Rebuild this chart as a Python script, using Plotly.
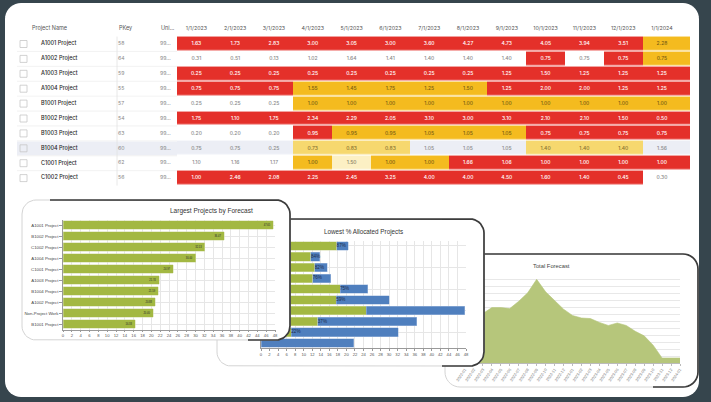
import numpy as np
import plotly.graph_objects as go

W, H = 711, 402

# ----------------------------- DATA -----------------------------
table_projects = ["A1001 Project", "A1002 Project", "A1003 Project", "A1004 Project",
                  "B1001 Project", "B1002 Project", "B1003 Project", "B1004 Project",
                  "C1001 Project", "C1002 Project"]
table_pkeys = ["58", "64", "59", "55", "57", "54", "63", "60", "62", "56"]
table_units = ["99..."] * 10
table_headers = ["Project Name", "PKey", "Uni..."]
table_months = ["1/1/2023", "2/1/2023", "3/1/2023", "4/1/2023", "5/1/2023", "6/1/2023",
                "7/1/2023", "8/1/2023", "9/1/2023", "10/1/2023", "11/1/2023", "12/1/2023",
                "1/1/2024"]
table_values = [
    [1.63, 1.73, 2.83, 3.00, 3.05, 3.00, 3.60, 4.27, 4.73, 4.05, 3.94, 3.51, 2.28],
    [0.31, 0.51, 0.13, 1.02, 1.64, 1.41, 1.40, 1.40, 1.40, 0.75, 0.75, 0.75, 0.75],
    [0.25, 0.25, 0.25, 0.25, 0.25, 0.25, 0.25, 0.25, 1.25, 1.50, 1.25, 1.25, 1.25],
    [0.75, 0.75, 0.75, 1.55, 1.45, 1.75, 1.25, 1.50, 1.25, 2.00, 2.00, 1.25, 1.25],
    [0.25, 0.25, 0.25, 1.00, 1.00, 1.00, 1.00, 1.00, 1.00, 1.00, 1.00, 1.00, 1.00],
    [1.75, 1.10, 1.75, 2.34, 2.29, 2.05, 3.10, 3.00, 3.10, 2.10, 2.10, 1.50, 0.50],
    [0.20, 0.20, 0.20, 0.95, 0.95, 0.95, 1.05, 1.05, 1.05, 0.75, 0.75, 0.75, 0.75],
    [0.75, 0.75, 0.25, 0.73, 0.83, 0.83, 1.05, 1.05, 1.05, 1.40, 1.40, 1.40, 1.56],
    [1.10, 1.16, 1.17, 1.00, 1.50, 1.00, 1.00, 1.66, 1.06, 1.00, 1.00, 1.00, 1.00],
    [1.00, 2.46, 2.08, 2.25, 2.45, 3.25, 4.00, 4.00, 4.50, 1.60, 1.40, 0.45, 0.30],
]
# R red, A amber, L light amber, C cream, G grey (selected row), W white
table_status = ["RRRRRRRRRRRRA", "WWWWWWWWWRWRA", "RRRRRRRRRRRRR", "RRRAAAAARRRRR",
                "WWWAAAAAAAAAA", "RRRRRRRRRRRRR", "WWWRAAAAARRRR", "GGGLLLGGGLLLG",
                "WWWACAARRRRRR", "RRRRRRRRRRRRW"]
selected_row = "B1004 Project"

largest_projects = ["A1001 Project", "B1002 Project", "C1002 Project", "A1004 Project",
                    "C1001 Project", "A1003 Project", "B1004 Project", "A1002 Project",
                    "Non-Project Work", "B1001 Project"]
largest_forecast = [47.65, 36.47, 32.13, 30.00, 24.97, 21.74, 21.59, 20.88, 20.40, 16.33]

lowest_projects = ["Non-Project Work", "B1003 Project", "D1001 Project", "B1001 Project",
                   "C1001 Project", "A1004 Project", "A1001 Project", "B1002 Project",
                   "C1002 Project", "A1003 Project"]
lowest_allocated = [17.7, 11.7, 12.6, 12.1, 18.5, 17.6, 24.6, 13.3, 7.1, 0.0]
lowest_forecast = [20.40, 13.8, 15.5, 16.33, 24.97, 30.00, 47.65, 36.47, 32.13, 21.74]
lowest_labels = ["87%", "84%", "82%", "76%", "75%", "59%", "", "37%", "22%", ""]

total_months = ["2022-01", "2022-02", "2022-03", "2022-04", "2022-05", "2022-06", "2022-07",
                "2022-08", "2022-09", "2022-10", "2022-11", "2022-12", "2023-01", "2023-02",
                "2023-03", "2023-04", "2023-05", "2023-06", "2023-07", "2023-08", "2023-09",
                "2023-10", "2023-11", "2023-12", "2024-01"]
total_forecast = [34.3, 35.0, 35.7, 40.0, 40.0, 39.3, 44.6, 50.7, 60.4, 51.4, 45.0, 38.9,
                  34.3, 32.5, 32.1, 29.3, 27.1, 28.9, 27.1, 22.9, 19.6, 12.9, 3.6, 3.6, 3.6]

# ----------------------------- STYLE -----------------------------
FRAME = "#36454d"
GREEN = "#a3b842"
BLUE = "#4f7fbe"
AREA = "#b6c67b"
status_order = ["R", "A", "L", "C", "G", "W"]
status_fill = {"R": "#e4302a", "A": "#f4bb1f", "L": "#f6d86e", "C": "#fcf0c4",
               "G": "#eceef5", "W": "#ffffff"}
status_text = {"R": "#ffffff", "A": "#7a5e14", "L": "#8a7433", "C": "#8d8466",
               "G": "#8a8a8a", "W": "#8a8a8a"}
TFONT = "Inter, Open Sans, sans-serif"
CFONT = "Liberation Sans, Arial, sans-serif"

# table geometry (pixels)
row_y0, row_h = 44.0, 14.9
col_x0, col_w, col_end = 177.0, 38.8, 690.0
row_y = [row_y0 + i * row_h for i in range(len(table_projects))]
col_edges = [col_x0 + i * col_w for i in range(len(table_months))] + [col_end]
col_txt = [col_x0 + (i + 0.5) * col_w for i in range(len(table_months))]
header_y = 29.0


def xd(a, b):
    return [a / W, b / W]


def yd(top, bottom):
    return [1 - bottom / H, 1 - top / H]


def arc(cx, cy, r, t0, t1, n=10):
    t = np.radians(np.linspace(t0, t1, n))
    return list(cx + r * np.cos(t)), list(cy + r * np.sin(t))


def rrect(x0, y0, x1, y1, r):
    xs, ys = [], []
    for cx, cy, a0, a1 in [(x0 + r, y0 + r, 180, 270), (x1 - r, y0 + r, 270, 360),
                           (x1 - r, y1 - r, 0, 90), (x0 + r, y1 - r, 90, 180)]:
        ax, ay = arc(cx, cy, r, a0, a1)
        xs += ax
        ys += ay
    return xs + [xs[0]], ys + [ys[0]]


def dark_edge(x0, y0, x1, y1, r):
    xs, ys = [x0 + 2 * r], [y0]
    ax, ay = arc(x1 - r, y0 + r, r, 270, 360)
    xs += ax
    ys += ay
    ax, ay = arc(x1 - r, y1 - r, r, 0, 90)
    xs += ax
    ys += ay
    xs.append(x1 - 3 * r)
    ys.append(y1)
    return xs, ys


def paper_path(xs, ys, close=True):
    s = "M " + " L ".join(f"{x / W:.5f},{1 - y / H:.5f}" for x, y in zip(xs, ys))
    return s + (" Z" if close else "")


fig = go.Figure()

# ---------------- subplot 1 : table (canvas in pixel units) ----------------
z = [[status_order.index(c) for c in row] for row in table_status]
n = len(status_order)
cs = []
for k, s in enumerate(status_order):
    cs += [[k / n, status_fill[s]], [(k + 1) / n, status_fill[s]]]
fig.add_trace(go.Heatmap(x=col_edges, y=row_y, z=z, colorscale=cs, zmin=-0.5, zmax=n - 0.5,
                         showscale=False, xgap=0, ygap=1.3, hoverinfo="skip",
                         xaxis="x", yaxis="y"))

sx, sy = [], []
for yy in row_y[:-1]:
    sx += [17, col_x0, None]
    sy += [yy + row_h / 2, yy + row_h / 2, None]
fig.add_trace(go.Scatter(x=sx, y=sy, mode="lines", line=dict(color="#ececec", width=0.7),
                         hoverinfo="skip", xaxis="x", yaxis="y"))
fig.add_trace(go.Scatter(x=[117, 117], y=[row_y[0] - row_h / 2, row_y[-1] + row_h / 2],
                         mode="lines", line=dict(color="#e2e2e2", width=0.8),
                         hoverinfo="skip", xaxis="x", yaxis="y"))
fig.add_trace(go.Scatter(x=[23.5] * len(row_y), y=row_y, mode="markers",
                         marker=dict(symbol="square-open", size=7, color="#c6c6c6",
                                     line=dict(width=0.8)),
                         hoverinfo="skip", xaxis="x", yaxis="y"))
# headers
fig.add_trace(go.Scatter(x=[32, 119, 161], y=[header_y] * 3, mode="text",
                         text=table_headers, textposition="middle right",
                         textfont=dict(family=TFONT, size=5.5, color="#555"),
                         hoverinfo="skip", xaxis="x", yaxis="y"))
fig.add_trace(go.Scatter(x=col_txt, y=[header_y] * len(col_txt), mode="text",
                         text=table_months, textposition="middle center",
                         textfont=dict(family=TFONT, size=5.3, color="#555"),
                         hoverinfo="skip", xaxis="x", yaxis="y"))
fig.add_trace(go.Scatter(x=[41] * len(row_y), y=row_y, mode="text", text=table_projects,
                         textposition="middle right",
                         textfont=dict(family=TFONT, size=5.5, color="#262626", weight=500),
                         hoverinfo="skip", xaxis="x", yaxis="y"))
fig.add_trace(go.Scatter(x=[118] * len(row_y), y=row_y, mode="text", text=table_pkeys,
                         textposition="middle right",
                         textfont=dict(family=TFONT, size=5.2, color="#8a8a8a"),
                         hoverinfo="skip", xaxis="x", yaxis="y"))
fig.add_trace(go.Scatter(x=[160] * len(row_y), y=row_y, mode="text", text=table_units,
                         textposition="middle right",
                         textfont=dict(family=TFONT, size=5.2, color="#8a8a8a"),
                         hoverinfo="skip", xaxis="x", yaxis="y"))
vx, vy, vt, vc = [], [], [], []
for i, row in enumerate(table_values):
    for j, v in enumerate(row):
        vx.append(col_txt[j])
        vy.append(row_y[i])
        vt.append(f"{v:.2f}")
        vc.append(status_text[table_status[i][j]])
fig.add_trace(go.Scatter(x=vx, y=vy, mode="text", text=vt, textposition="middle center",
                         textfont=dict(family=TFONT, size=5, color=vc, weight=500),
                         hoverinfo="skip", xaxis="x", yaxis="y"))

# ---------------- subplot 2 : Total Forecast (bottom card) ----------------
fig.add_trace(go.Scatter(x=total_months, y=total_forecast, mode="lines", fill="tozeroy",
                         line=dict(color=AREA, width=0.6), fillcolor=AREA,
                         hoverinfo="skip", xaxis="x2", yaxis="y2"))

# ---------------- subplot 3 : card 2 background ----------------
c2 = (217, 219, 484, 366, 14)
xs, ys = rrect(*c2)
fig.add_trace(go.Scatter(x=xs, y=ys, mode="lines", fill="toself", fillcolor="#ffffff",
                         line=dict(color="#d4d4d4", width=1), hoverinfo="skip",
                         xaxis="x3", yaxis="y3"))
xs, ys = dark_edge(*c2)
fig.add_trace(go.Scatter(x=xs, y=ys, mode="lines", line=dict(color="#3c3c3c", width=1.7),
                         hoverinfo="skip", xaxis="x3", yaxis="y3"))

# ---------------- subplot 4 : Lowest % Allocated ----------------
remaining = [f - a for f, a in zip(lowest_forecast, lowest_allocated)]
fig.add_trace(go.Bar(x=lowest_allocated, y=lowest_projects, orientation="h",
                     marker=dict(color=GREEN, line=dict(color="#d3dca8", width=0.5)),
                     hoverinfo="skip", xaxis="x4", yaxis="y4"))
fig.add_trace(go.Bar(x=remaining, y=lowest_projects, orientation="h",
                     marker=dict(color=BLUE, line=dict(color="#a9c0df", width=0.5)),
                     hoverinfo="skip", xaxis="x4", yaxis="y4"))
fig.add_trace(go.Scatter(x=lowest_allocated, y=lowest_projects, mode="text",
                         text=lowest_labels, textposition="middle right",
                         textfont=dict(family=CFONT, size=4.6, color="#1f2d4a"),
                         hoverinfo="skip", xaxis="x4", yaxis="y4"))

# ---------------- subplot 5 : card 1 background ----------------
c1 = (22, 200, 290, 340, 14)
xs, ys = rrect(*c1)
fig.add_trace(go.Scatter(x=xs, y=ys, mode="lines", fill="toself", fillcolor="#ffffff",
                         line=dict(color="#d4d4d4", width=1), hoverinfo="skip",
                         xaxis="x5", yaxis="y5"))
xs, ys = dark_edge(*c1)
fig.add_trace(go.Scatter(x=xs, y=ys, mode="lines", line=dict(color="#3c3c3c", width=1.7),
                         hoverinfo="skip", xaxis="x5", yaxis="y5"))

# ---------------- subplot 6 : Largest Projects by Forecast ----------------
fig.add_trace(go.Bar(x=largest_forecast, y=largest_projects, orientation="h",
                     marker=dict(color=GREEN, line=dict(color="#d3dca8", width=0.5)),
                     text=[f"{v:.2f}" for v in largest_forecast], textposition="inside",
                     insidetextanchor="end", textangle=0,
                     textfont=dict(family=CFONT, size=4.6, color="#2a2a2a"),
                     hoverinfo="skip", xaxis="x6", yaxis="y6"))

# ---------------- layout ----------------
canvas_x = dict(domain=[0, 1], range=[0, W], visible=False, fixedrange=True)
canvas_y = dict(domain=[0, 1], range=[H, 0], visible=False, fixedrange=True)
grid = "#e6e6e6"
tick = dict(family=CFONT, size=4.2, color="#555")

shapes = []
px, py = rrect(5, 3, 699, 397, 16)
shapes.append(dict(type="path", path=paper_path(px, py), xref="paper", yref="paper",
                   fillcolor="#ffffff", line=dict(width=0), layer="below"))
sel = table_projects.index(selected_row)
shapes.append(dict(type="rect", xref="paper", yref="paper", x0=17 / W, x1=col_x0 / W,
                   y0=1 - (row_y[sel] + row_h / 2 - 0.6) / H,
                   y1=1 - (row_y[sel] - row_h / 2 + 0.6) / H,
                   fillcolor=status_fill["G"], line=dict(width=0), layer="below"))
c3 = (445, 254, 698, 387, 15)
px, py = rrect(*c3)
shapes.append(dict(type="path", path=paper_path(px, py), xref="paper", yref="paper",
                   fillcolor="#ffffff", line=dict(color="#d4d4d4", width=1), layer="below"))
px, py = dark_edge(*c3)
shapes.append(dict(type="path", path=paper_path(px, py, close=False), xref="paper",
                   yref="paper", line=dict(color="#3c3c3c", width=1.7), layer="below"))

fig.update_layout(
    width=W, height=H, margin=dict(l=0, r=0, t=0, b=0, pad=0, autoexpand=False),
    paper_bgcolor=FRAME, plot_bgcolor="rgba(0,0,0,0)",
    showlegend=False, barmode="stack", bargap=0.2,
    shapes=shapes,
    xaxis=canvas_x, yaxis=canvas_y,
    xaxis2=dict(domain=xd(465, 680), anchor="y2", type="category", range=[0, 24],
                tickangle=-55, tickfont=dict(family=CFONT, size=4, color="#777"),
                showline=True, linecolor="#bbbbbb", linewidth=0.6, ticks="outside",
                ticklen=2, tickcolor="#bbbbbb", showgrid=False, fixedrange=True),
    yaxis2=dict(domain=yd(273, 363), anchor="x2", range=[0, 65], dtick=5,
                showticklabels=False, showgrid=True, gridcolor="#e8e8e8", gridwidth=0.6,
                zeroline=False, fixedrange=True),
    xaxis3=dict(canvas_x, anchor="y3"), yaxis3=dict(canvas_y, anchor="x3"),
    xaxis4=dict(domain=xd(261, 466), anchor="y4", range=[0, 48], dtick=2, tickfont=tick,
                showgrid=True, gridcolor=grid, gridwidth=0.5, showline=True,
                linecolor="#999", linewidth=0.6, ticks="outside", ticklen=2,
                tickcolor="#999", zeroline=False, fixedrange=True),
    yaxis4=dict(domain=yd(240.6, 348.4), anchor="x4", type="category",
                autorange="reversed", showticklabels=False, showgrid=True, gridcolor=grid,
                gridwidth=0.5, showline=True, linecolor="#999", linewidth=0.6,
                fixedrange=True),
    xaxis5=dict(canvas_x, anchor="y5"), yaxis5=dict(canvas_y, anchor="x5"),
    xaxis6=dict(domain=xd(63, 275), anchor="y6", range=[0, 48], dtick=2, tickfont=tick,
                showgrid=True, gridcolor=grid, gridwidth=0.5, showline=True,
                linecolor="#999", linewidth=0.6, ticks="outside", ticklen=2,
                tickcolor="#999", zeroline=False, fixedrange=True),
    yaxis6=dict(domain=yd(219.5, 329.5), anchor="x6", type="category",
                autorange="reversed", tickfont=dict(family=CFONT, size=4.3, color="#444"),
                ticks="outside", ticklen=3, tickcolor="#999", showgrid=True,
                gridcolor=grid, gridwidth=0.5, showline=True, linecolor="#999",
                linewidth=0.6, fixedrange=True),
    annotations=[
        dict(text="Largest Projects by Forecast", x=168 / W, y=1 - 211 / H, xref="paper",
             yref="paper", showarrow=False, font=dict(family=CFONT, size=6.5, color="#333")),
        dict(text="Lowest % Allocated Projects", x=363 / W, y=1 - 232 / H, xref="paper",
             yref="paper", showarrow=False, font=dict(family=CFONT, size=6.3, color="#333")),
        dict(text="Total Forecast", x=572 / W, y=1 - 266 / H, xref="paper",
             yref="paper", showarrow=False, font=dict(family=CFONT, size=5.8, color="#444")),
    ],
)

fig.write_html("out.html", config=dict(displayModeBar=False),
               post_script="document.body.style.margin='0';"
                           "document.body.style.overflow='hidden';"
                           "document.body.style.background='" + FRAME + "';")
